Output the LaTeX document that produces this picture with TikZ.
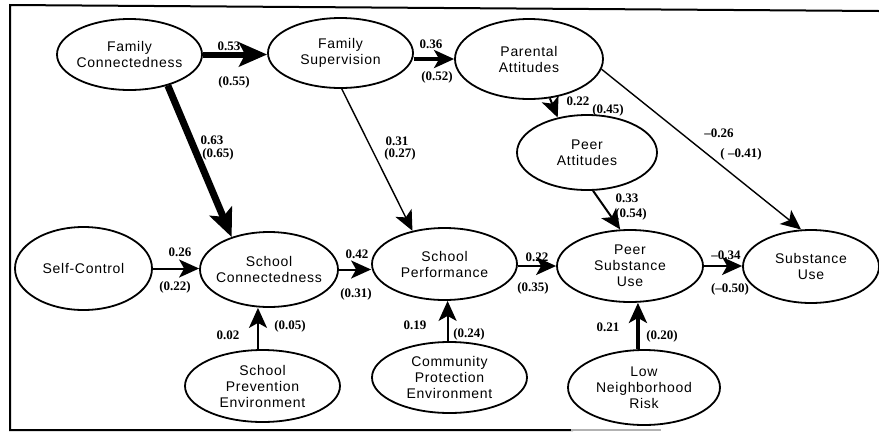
\documentclass[tikz,border=0pt]{standalone}
\usepackage{fontspec}
\usetikzlibrary{arrows.meta,shapes.geometric}
\newfontfamily\nodefont[LetterSpace=5]{Liberation Sans}
\newfontfamily\labfont{Liberation Serif}
\tikzset{
  ell/.style={draw, ellipse, line width=1.8pt, inner sep=0pt},
  txt/.style={font=\nodefont\fontsize{14}{16}\selectfont, align=center, inner sep=0pt},
  lab/.style={font=\labfont\bfseries\fontsize{13}{15}\selectfont, inner sep=0pt},
  tipA/.style={-{Stealth[length=20pt,width=18pt,inset=5pt]}},
  tipB/.style={-{Stealth[length=28pt,width=24pt,inset=6pt]}},
  thin/.style={line width=1.4pt, tipA},
  mid/.style={line width=2pt, tipA},
  heavy/.style={line width=3.5pt, tipA},
  xheavy/.style={line width=6pt, tipB},
  frame/.style={line width=2pt, line cap=rect}
}
\begin{document}
\begin{tikzpicture}[x=1pt,y=-1pt]
\useasboundingbox (0,0) rectangle (879,432);
% frame
\draw[frame] (879,11) -- (10,5) -- (10,430) -- (572,430);
\draw[frame, gray!60] (572,430) -- (660,430);

% constructs
\node[ell, minimum width=145pt, minimum height=71pt] (FC)  at (129.5,54.5) {};
\node[ell, minimum width=145pt, minimum height=70pt] (FS)  at (340.5,53)   {};
\node[ell, minimum width=148pt, minimum height=80pt] (PA)  at (529,59)     {};
\node[ell, minimum width=140pt, minimum height=75pt] (PeA) at (587,152.5)  {};
\node[ell, minimum width=137pt, minimum height=83pt] (SC)  at (83.5,268.5) {};
\node[ell, minimum width=138pt, minimum height=75pt] (SCo) at (269,269.5)  {};
\node[ell, minimum width=145pt, minimum height=72pt] (SP)  at (444.5,264)  {};
\node[ell, minimum width=146pt, minimum height=72pt] (PSU) at (630,266)    {};
\node[ell, minimum width=136pt, minimum height=73pt] (SU)  at (811,266.5)  {};
\node[ell, minimum width=155pt, minimum height=72pt] (SPE) at (262.5,386)  {};
\node[ell, minimum width=155pt, minimum height=71pt] (CPE) at (449.5,377.5){};
\node[ell, minimum width=152pt, minimum height=75pt] (LNR) at (644,387.5)  {};

\node[txt] (FCt)  at (FC)  {Family\\Connectedness};
\node[txt] (FSt)  at (FS)  {Family\\Supervision};
\node[txt] (PAt)  at (PA)  {Parental\\Attitudes};
\node[txt] (PeAt) at (PeA) {Peer\\Attitudes};
\node[txt] (SCt)  at (SC)  {Self-Control};
\node[txt] (SCot) at (SCo) {School\\Connectedness};
\node[txt] (SPt)  at (SP)  {School\\Performance};
\node[txt] (PSUt) at (PSU) {Peer\\Substance\\Use};
\node[txt] (SUt)  at (SU)  {Substance\\Use};
\node[txt] (SPEt) at (SPE) {School\\Prevention\\Environment};
\node[txt] (CPEt) at (CPE) {Community\\Protection\\Environment};
\node[txt] (LNRt) at (LNR) {Low\\Neighborhood\\Risk};

% paths
\draw[xheavy] (FC.east) -- (FC.east -| FS.west);
\draw[heavy] (FS.east |- PA.west) -- (PA.west);
\draw[mid] (PA.-62) -- (PeA.130);
\draw[thin] (PA.-8) -- (SU.105);
\draw[mid] (PeA.-81) -- (PSU.105);
\draw[line width=7pt, tipB] (FC.-39) -- (SCo.139);
\draw[thin] (FS.-88) -- (SP.134);
\draw[mid] (SC.east) -- (SC.east -| SCo.west);
\draw[mid] (SCo.east) -- (SCo.east -| SP.west);
\draw[mid] (SP.east |- PSU.west) -- (PSU.west);
\draw[mid] (PSU.east) -- (PSU.east -| SU.west);
\draw[mid] (SPE.97) -- (SPE.97 |- SCo.south);
\draw[mid] (CPE.93) -- (CPE.93 |- SP.south);
\draw[heavy] (LNR.99) -- (LNR.99 |- PSU.south);

% coefficients
\node[lab] (l1a) at (229,46)  {0.53};
\node[lab] (l1b) at (234,82)  {(0.55)};
\node[lab] (l2a) at (431,44)  {0.36};
\node[lab] (l2b) at (437,77)  {(0.52)};
\node[lab] (l3a) at (578,101) {0.22};
\node[lab] (l3b) at (608,110) {(0.45)};
\node[lab] (l4a) at (719,133) {–0.26};
\node[lab] (l4b) at (741,154) {( –0.41)};
\node[lab] (l5a) at (627,198) {0.33};
\node[lab] (l5b) at (631,214) {(0.54)};
\node[lab] (l6a) at (212,140) {0.63};
\node[lab] (l6b) at (218,154) {(0.65)};
\node[lab] (l7a) at (397,141) {0.31};
\node[lab] (l7b) at (400,154) {(0.27)};
\node[lab] (l8a) at (180,252) {0.26};
\node[lab] (l8b) at (175,287) {(0.22)};
\node[lab] (l9a) at (357,254) {0.42};
\node[lab] (l9b) at (356,294) {(0.31)};
\node[lab] (l10a) at (537,257) {0.22};
\node[lab] (l10b) at (533,288) {(0.35)};
\node[lab] (l11a) at (726,255) {–0.34};
\node[lab] (l11b) at (730,289) {(–0.50)};
\node[lab] (l12a) at (228,335) {0.02};
\node[lab] (l12b) at (290,326) {(0.05)};
\node[lab] (l13a) at (415,325) {0.19};
\node[lab] (l13b) at (469,334) {(0.24)};
\node[lab] (l14a) at (608,327) {0.21};
\node[lab] (l14b) at (662,336) {(0.20)};
\end{tikzpicture}
\end{document}
